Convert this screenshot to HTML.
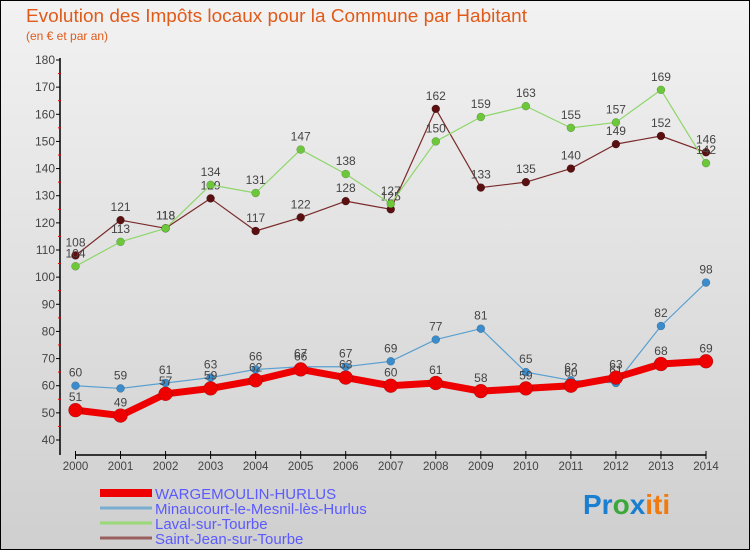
<!DOCTYPE html>
<html><head><meta charset="utf-8"><style>
body{margin:0;width:750px;height:550px;overflow:hidden;font-family:"Liberation Sans",sans-serif}
</style></head><body>
<svg width="750" height="550" xmlns="http://www.w3.org/2000/svg">
<defs><linearGradient id="bg" x1="0" y1="0" x2="0" y2="1"><stop offset="0" stop-color="#f2f2f2"/><stop offset="1" stop-color="#cfcfcf"/></linearGradient></defs>
<rect x="0.5" y="0.5" width="749" height="549" fill="url(#bg)" stroke="#000"/>
<text x="26" y="22" font-size="18" fill="#e05a1a" textLength="501" lengthAdjust="spacingAndGlyphs">Evolution des Impôts locaux pour la Commune par Habitant</text>
<text x="26" y="40" font-size="12" fill="#e05a1a">(en € et par an)</text>
<g id="axes"></g><g id="series"></g><g id="legend"></g>
<text x="583" y="514" font-size="28" font-weight="bold"><tspan fill="#1a7fd0">Pr</tspan><tspan fill="#3aa83a">o</tspan><tspan fill="#1a7fd0">x</tspan><tspan fill="#f07a10">iti</tspan></text>
</svg>
<script>
const years=[2000,2001,2002,2003,2004,2005,2006,2007,2008,2009,2010,2011,2012,2013,2014];
const wargemoulin=[51,49,57,59,62,66,63,60,61,58,59,60,63,68,69];
const minaucourt=[60,59,61,63,66,67,67,69,77,81,65,62,61,82,98];
const laval=[104,113,118,134,131,147,138,127,150,159,163,155,157,169,142];
const saintjean=[108,121,118,129,117,122,128,125,162,133,135,140,149,152,146];
const yTicks=[40,50,60,70,80,90,100,110,120,130,140,150,160,170,180];
const seriesNames=["WARGEMOULIN-HURLUS","Minaucourt-le-Mesnil-lès-Hurlus","Laval-sur-Tourbe","Saint-Jean-sur-Tourbe"];
const NS="http://www.w3.org/2000/svg";
const x=i=>75.5+i*(706-75.5)/(years.length-1);
const y=v=>440-(v-40)*380/140;
function mk(p,t,a){const e=document.createElementNS(NS,t);for(const k in a)e.setAttribute(k,a[k]);p.appendChild(e);return e;}
const ax=document.getElementById('axes');
let l=mk(ax,'line',{x1:60,y1:y(180)-2,x2:60,y2:455,stroke:'#000','stroke-width':1.5});


l=mk(ax,'line',{x1:75,y1:455,x2:706,y2:455,stroke:'#000','stroke-width':1.5});


yTicks.forEach((v,i)=>{
 mk(ax,'line',{x1:56,y1:y(v),x2:60,y2:y(v),stroke:'#000'});
 if(i<yTicks.length-1) mk(ax,'line',{x1:58,y1:y(v+5),x2:61,y2:y(v+5),stroke:'#e00'});
 const t=mk(ax,'text',{x:55,y:y(v)+4,'font-size':12,fill:'#444','text-anchor':'end'});t.textContent=v;
 
 
});
years.forEach((yr,i)=>{
 mk(ax,'line',{x1:x(i),y1:451,x2:x(i),y2:459,stroke:'#000'});
 const t=mk(ax,'text',{x:x(i),y:470,'font-size':11.5,fill:'#444','text-anchor':'middle'});t.textContent=yr;
 
 
});
const sg=document.getElementById('series');
function draw(vals,color,dot,w,r,name){
 const g=mk(sg,'g',{});
 
 
 mk(g,'polyline',{points:vals.map((v,i)=>x(i)+','+y(v)).join(' '),fill:'none',stroke:color,'stroke-width':w,'stroke-linejoin':'round'});
 vals.forEach((v,i)=>{
  const c=mk(g,'circle',{cx:x(i),cy:y(v),r:r,fill:dot,stroke:'rgba(0,0,0,0.3)','stroke-width':0.5});
  
  
  const t=mk(g,'text',{x:x(i),y:y(v)-9,'font-size':12,fill:'#444','text-anchor':'middle'});t.textContent=v;
  
  
 });
}
draw(saintjean,'#7a2a2a','#5a1010',1.2,4,'series-saint-jean');
draw(laval,'#8ed66a','#6cc83a',1.2,4,'series-laval');
draw(minaucourt,'#5aa0d0','#3a8ccc',1.2,4,'series-minaucourt');
draw(wargemoulin,'#ee0000','#ee0000',7,7,'series-wargemoulin');
const lg=document.getElementById('legend');
const lc=['#ee0000','#7aaed0','#9ad878','#9a6060'],lw=[8,3,3,3];
seriesNames.forEach((n,i)=>{
 const g=mk(lg,'g',{});
 
 
 const yy=493+i*15;
 mk(g,'line',{x1:100,y1:yy,x2:152,y2:yy,stroke:lc[i],'stroke-width':lw[i]});
 const t=mk(g,'text',{x:155,y:yy+6,'font-size':15,fill:'#5a5aff'});t.textContent=n;
});
</script>
</body></html>
